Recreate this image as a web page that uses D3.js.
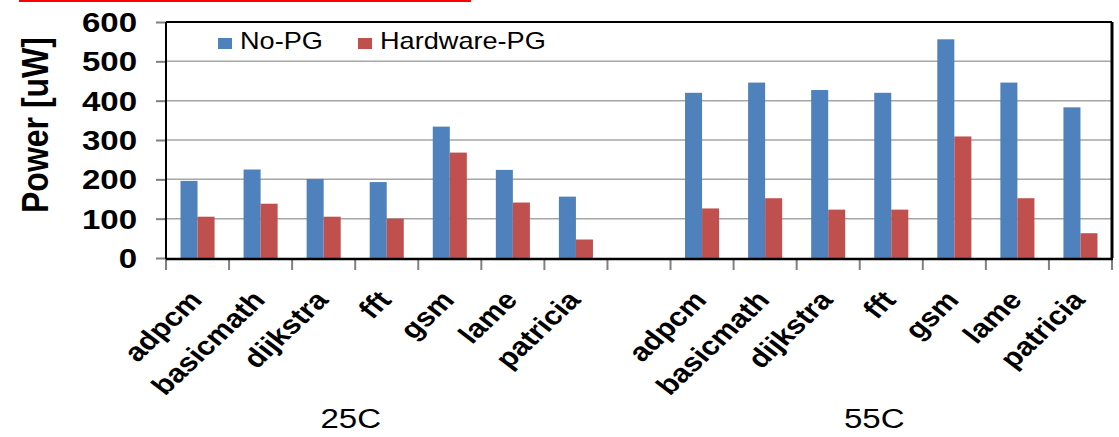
<!DOCTYPE html>
<html>
<head>
<meta charset="utf-8">
<script src="https://cdn.jsdelivr.net/npm/d3@7"></script>
<style>
  html, body { margin: 0; padding: 0; background: #fff; }
  svg { display: block; }
  text { font-family: Arial, "Liberation Sans", sans-serif; }
</style>
</head>
<body>
<svg id="chart" width="1119" height="437"></svg>
<script>
// ---- data ----
const benchmarks = ["adpcm", "basicmath", "dijkstra", "fft", "gsm", "lame", "patricia"];
const groups = ["25C", "55C"];
const seriesNames = ["No-PG", "Hardware-PG"];
const noPG25 = [196, 225, 201, 193, 334, 224, 156];
const hwPG25 = [105, 138, 105, 100, 268, 141, 47];
const noPG55 = [420, 446, 427, 420, 556, 446, 383];
const hwPG55 = [126, 152, 123, 123, 309, 152, 63];
const yTicks = [0, 100, 200, 300, 400, 500, 600];
const yTitle = "Power [uW]";

const colors = { "No-PG": "#4F81BD", "Hardware-PG": "#C0504D" };

// ---- layout ----
const SX = 1.18; // horizontal text stretch of the reference
const margin = { left: 166, right: 7, top: 22, bottom: 179 };
const W = 1119, H = 437;
const svg = d3.select("#chart");

// slots: 7 benchmarks, one empty gap, 7 benchmarks
const slots = [];
benchmarks.forEach((b, i) => slots.push({ key: "25C|" + b, group: "25C", name: b, vals: [noPG25[i], hwPG25[i]] }));
slots.push({ key: "gap", group: null, name: "", vals: null });
benchmarks.forEach((b, i) => slots.push({ key: "55C|" + b, group: "55C", name: b, vals: [noPG55[i], hwPG55[i]] }));

const x0 = d3.scaleBand().domain(slots.map(d => d.key))
  .range([margin.left, W - margin.right]).paddingInner(0).paddingOuter(0);
const bw = x0.bandwidth();
const x1 = d3.scaleBand().domain(seriesNames).range([bw * 0.23, bw * 0.77]).padding(0);
const y = d3.scaleLinear().domain([0, 600]).range([H - margin.bottom, margin.top]);

// red line at the very top
svg.append("line").attr("x1", 19).attr("x2", 471).attr("y1", 1).attr("y2", 1)
  .attr("stroke", "#ff0000").attr("stroke-width", 2);

// gridlines
svg.append("g").selectAll("line").data(yTicks.filter(t => t > 0 && t < 600)).join("line")
  .attr("x1", margin.left).attr("x2", W - margin.right)
  .attr("y1", d => y(d)).attr("y2", d => y(d))
  .attr("stroke", "#a6a6a6").attr("stroke-width", 1.5);

// bars
const sg = svg.append("g").selectAll("g").data(slots.filter(d => d.vals)).join("g")
  .attr("transform", d => `translate(${x0(d.key)},0)`);
sg.selectAll("rect").data(d => d.vals.map((v, i) => ({ s: seriesNames[i], v }))).join("rect")
  .attr("x", d => x1(d.s)).attr("width", x1.bandwidth())
  .attr("y", d => y(d.v)).attr("height", d => y(0) - y(d.v))
  .attr("fill", d => colors[d.s]);

// y axis with ticks to the left
const yAxis = d3.axisLeft(y).tickValues(yTicks).tickSize(10).tickFormat("");
const yg = svg.append("g").attr("transform", `translate(${margin.left},0)`).call(yAxis);
yg.select(".domain").remove();
yg.selectAll(".tick line").attr("stroke", "#808080").attr("stroke-width", 2);
svg.append("g").selectAll("text").data(yTicks).join("text")
  .attr("transform", d => `translate(137,${y(d) + 10}) scale(${SX},1)`)
  .attr("text-anchor", "end").attr("font-size", 28).attr("font-weight", "bold")
  .attr("fill", "#000").text(d => d);

// x ticks at slot boundaries
const bounds = slots.map(d => x0(d.key)).concat([x0(slots[slots.length - 1].key) + bw]);
svg.append("g").selectAll("line").data(bounds).join("line")
  .attr("x1", d => d).attr("x2", d => d).attr("y1", y(0)).attr("y2", y(0) + 12)
  .attr("stroke", "#808080").attr("stroke-width", 2);

// frame
svg.append("line").attr("x1", margin.left).attr("x2", W - margin.right)
  .attr("y1", y(600)).attr("y2", y(600)).attr("stroke", "#000").attr("stroke-width", 2);
svg.append("line").attr("x1", W - margin.right).attr("x2", W - margin.right)
  .attr("y1", y(600)).attr("y2", y(0)).attr("stroke", "#000").attr("stroke-width", 3);
svg.append("line").attr("x1", margin.left).attr("x2", margin.left)
  .attr("y1", y(600)).attr("y2", y(0) + 1).attr("stroke", "#000").attr("stroke-width", 2);
svg.append("line").attr("x1", margin.left).attr("x2", W - margin.right + 1)
  .attr("y1", y(0) + 1).attr("y2", y(0) + 1).attr("stroke", "#000").attr("stroke-width", 2.5);

// x category labels, rotated
svg.append("g").selectAll("text").data(slots.filter(d => d.vals)).join("text")
  .attr("transform", d => `translate(${x0(d.key) + bw / 2 + 6},${y(0) + 43}) scale(${SX},1) rotate(-48)`)
  .attr("text-anchor", "end").attr("font-size", 26).attr("font-weight", "bold")
  .attr("fill", "#000").text(d => d.name);

// group labels
const groupOffset = { "25C": -36, "55C": -17 };
groups.forEach(g => {
  const gs = slots.filter(d => d.group === g);
  const cx = (x0(gs[0].key) + x0(gs[gs.length - 1].key) + bw) / 2 + groupOffset[g];
  svg.append("text").attr("transform", `translate(${cx},428) scale(${SX},1)`)
    .attr("text-anchor", "middle").attr("font-size", 28).attr("fill", "#000").text(g);
});

// y title
svg.append("text").attr("transform", `translate(48,125) scale(${SX},1) rotate(-90)`)
  .attr("text-anchor", "middle").attr("font-size", 32).attr("font-weight", "bold")
  .attr("fill", "#000").text(yTitle);

// legend
const legendX = [218, 358];
const lg = svg.append("g").selectAll("g").data(seriesNames).join("g")
  .attr("transform", (d, i) => `translate(${legendX[i]},38)`);
lg.append("rect").attr("width", 14).attr("height", 11).attr("fill", d => colors[d]);
lg.append("text").attr("transform", `translate(22,11) scale(${SX},1)`)
  .attr("font-size", 23).attr("fill", "#000").text(d => d);
</script>
</body>
</html>
